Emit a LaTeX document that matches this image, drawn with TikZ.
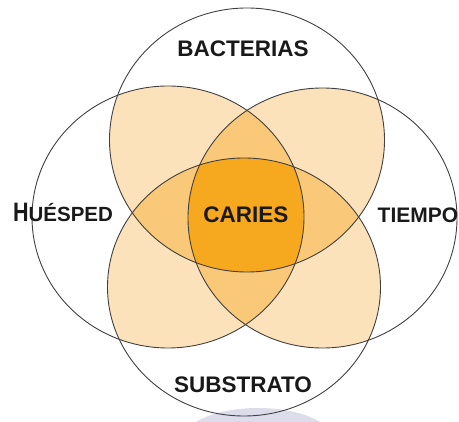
\documentclass[tikz,border=0pt]{standalone}
\usepackage{fontspec}
\setmainfont{Liberation Sans}
\usepackage{graphicx}
\definecolor{petal}{HTML}{FCE2BA}
\definecolor{triple}{HTML}{F9C878}
\definecolor{core}{HTML}{F6A81E}
\definecolor{haze}{HTML}{DCDCEA}

\begin{document}
\begin{tikzpicture}[
  x=1pt, y=1pt,
  factor/.style={font=\bfseries\fontsize{22.5}{24}\selectfont, inner sep=0pt, anchor=base, text=black!90},
  ring/.style={draw=black!75, line width=0.9pt}
]
\useasboundingbox (0,0) rectangle (459,-422);
% the four factors
\def\bact{(247,-140) ellipse [x radius=137.5pt, y radius=132pt]}
\def\subs{(244,-287) ellipse [x radius=136.5pt, y radius=129pt]}
\def\hues{(168,-217) ellipse [x radius=136pt, y radius=131pt]}
\def\tiem{(322.5,-218) ellipse [x radius=134.5pt, y radius=130pt]}
% faint shadow under the bottom circle
\fill[haze] (258,-441) ellipse [x radius=76pt, y radius=33pt];
% two factors overlap
\begin{scope} \clip \bact; \fill[petal] \hues; \fill[petal] \tiem; \end{scope}
\begin{scope} \clip \subs; \fill[petal] \hues; \fill[petal] \tiem; \end{scope}
% three factors overlap
\begin{scope} \clip \bact; \clip \hues; \fill[triple] \tiem; \fill[triple] \subs; \end{scope}
\begin{scope} \clip \subs; \clip \tiem; \fill[triple] \hues; \fill[triple] \bact; \end{scope}
% all four: caries
\begin{scope} \clip \bact; \clip \subs; \clip \hues; \fill[core] \tiem; \end{scope}
% outlines
\draw[ring] \bact;
\draw[ring] \subs;
\draw[ring] \hues;
\draw[ring] \tiem;
% labels
\node[factor] (bacterias) at (243,-57) {BACTERIAS};
\node[factor] (caries) at (246,-223) {CARIES};
\node[factor] (substrato) at (243,-393) {SUBSTRATO};
\node[factor, font=\bfseries\fontsize{21}{23}\selectfont] (tiempo) at (418,-223) {TIEMPO};
\node[factor, font=\bfseries\fontsize{20.5}{23}\selectfont] (huesped) at (63,-222) {\scalebox{1.05}[1.3]{H}UÉSPED};
\end{tikzpicture}
\end{document}
